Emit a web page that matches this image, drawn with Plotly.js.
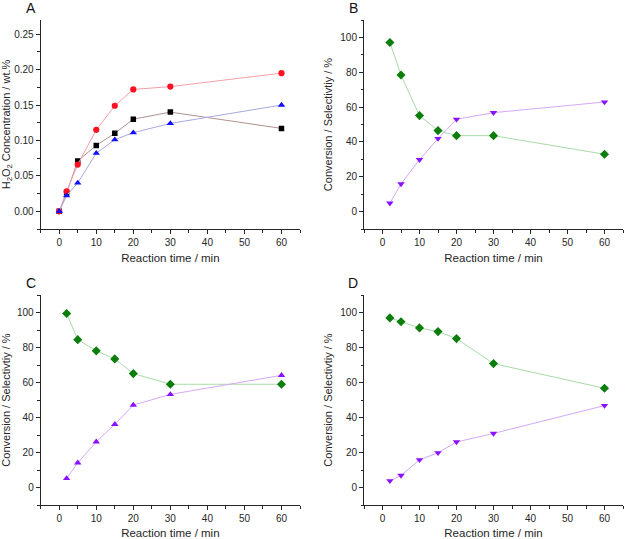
<!DOCTYPE html>
<html>
<head>
<meta charset="utf-8">
<script src="https://cdn.plot.ly/plotly-3.0.1.min.js"></script>
<style>html,body{margin:0;padding:0;background:#fff;}#chart{width:626px;height:539px;}</style>
</head>
<body>
<div id="chart"></div>
<script>
// ---- data ----
var timeA = [0, 2, 5, 10, 15, 20, 30, 60];
var h2o2Black = [0.000, 0.026, 0.071, 0.093, 0.110, 0.130, 0.140, 0.117];
var h2o2Red   = [0.000, 0.028, 0.066, 0.115, 0.149, 0.172, 0.176, 0.195];
var h2o2Blue  = [0.000, 0.022, 0.040, 0.082, 0.101, 0.111, 0.124, 0.150];

var timeBCD = [2, 5, 10, 15, 20, 30, 60];
var convB = [97.1, 78.4, 55.1, 46.5, 43.6, 43.6, 32.9];
var selB  = [4.8, 15.9, 29.8, 41.9, 53.0, 56.8, 62.9];
var convC = [99.4, 84.5, 78.1, 73.5, 65.1, 59.0, 59.0];
var selC  = [5.2, 14.1, 26.1, 36.1, 47.1, 53.2, 64.1];
var convD = [96.9, 94.7, 91.2, 89.1, 85.1, 70.8, 56.7];
var selD  = [3.8, 6.9, 15.8, 19.8, 26.0, 30.9, 46.8];

var panelLabels = ['A', 'B', 'C', 'D'];
var xTitle = 'Reaction time / min';
var yTitleA = 'H<sub>2</sub>O<sub>2</sub> Concentration / wt.%';
var yTitleBCD = 'Conversion / Selectivtiy / %';

// ---- styles ----
var FONT = 'Liberation Sans, Arial, sans-serif';
var AX = '#262626';
function tr(x, y, xa, ya, sym, mcol, lcol, size) {
  return {x: x, y: y, xaxis: xa, yaxis: ya, type: 'scatter', mode: 'lines+markers',
    line: {color: lcol, width: 1},
    marker: {symbol: sym, color: mcol, size: size, line: {width: 0}},
    showlegend: false, hoverinfo: 'x+y'};
}
var data = [
  tr(timeA, h2o2Black, 'x', 'y', 'square', '#000000', '#b09090', 5.5),
  tr(timeA, h2o2Red, 'x', 'y', 'circle', '#ff1020', '#f4a0a8', 6.2),
  tr(timeA, h2o2Blue, 'x', 'y', 'triangle-up', '#1010ff', '#a8a8e0', 6.5),
  tr(timeBCD, convB, 'x2', 'y2', 'diamond', '#0a7d0a', '#a8dba8', 7),
  tr(timeBCD, selB, 'x2', 'y2', 'triangle-down', '#8a10ff', '#d4a8f8', 6.5),
  tr(timeBCD, convC, 'x3', 'y3', 'diamond', '#0a7d0a', '#a8dba8', 7),
  tr(timeBCD, selC, 'x3', 'y3', 'triangle-up', '#8a10ff', '#d4a8f8', 6.5),
  tr(timeBCD, convD, 'x4', 'y4', 'diamond', '#0a7d0a', '#a8dba8', 7),
  tr(timeBCD, selD, 'x4', 'y4', 'triangle-down', '#8a10ff', '#d4a8f8', 6.5)
];

function xa(domain, anchor) {
  return {domain: domain, anchor: anchor, range: [-5, 65], dtick: 10, tick0: 0,
    showline: true, linecolor: AX, linewidth: 1, mirror: false,
    ticks: 'outside', ticklen: 4, tickwidth: 1, tickcolor: AX,
    minor: {ticks: 'outside', ticklen: 2.5, dtick: 5, tick0: 0, tickcolor: AX, tickwidth: 1},
    showgrid: false, zeroline: false,
    tickfont: {family: FONT, size: 10, color: AX},
    title: {text: xTitle, font: {family: FONT, size: 11.5, color: AX}, standoff: 6}};
}
function ya(domain, anchor, range, dtick, mdtick, fmt, title) {
  return {domain: domain, anchor: anchor, range: range, dtick: dtick, tick0: 0,
    showline: true, linecolor: AX, linewidth: 1, mirror: false,
    ticks: 'outside', ticklen: 4, tickwidth: 1, tickcolor: AX,
    minor: {ticks: 'outside', ticklen: 2.5, dtick: mdtick, tick0: 0, tickcolor: AX, tickwidth: 1},
    showgrid: false, zeroline: false, tickformat: fmt,
    tickfont: {family: FONT, size: 10, color: AX},
    title: {text: title, font: {family: FONT, size: 11, color: AX}, standoff: 5}};
}
var W = 626, H = 539;
var dxL = [40.7 / W, 300 / W], dxR = [364 / W, 623 / W];
var dyT = [1 - 229 / H, 1 - 20 / H], dyB = [1 - 505 / H, 1 - 295 / H];

var layout = {
  width: W, height: H, margin: {l: 0, r: 0, t: 0, b: 0},
  paper_bgcolor: '#ffffff', plot_bgcolor: '#ffffff',
  font: {family: FONT, color: AX},
  xaxis: xa(dxL, 'y'),
  yaxis: ya(dyT, 'x', [-0.025, 0.27], 0.05, 0.025, '.2f', yTitleA),
  xaxis2: xa(dxR, 'y2'),
  yaxis2: ya(dyT, 'x2', [-10, 110], 20, 10, 'd', yTitleBCD),
  xaxis3: xa(dxL, 'y3'),
  yaxis3: ya(dyB, 'x3', [-10, 110], 20, 10, 'd', yTitleBCD),
  xaxis4: xa(dxR, 'y4'),
  yaxis4: ya(dyB, 'x4', [-10, 110], 20, 10, 'd', yTitleBCD),
  annotations: [
    [31, 8], [353, 8], [31, 283], [353, 283]
  ].map(function (p, i) {
    return {text: panelLabels[i], xref: 'paper', yref: 'paper', x: p[0] / W, y: 1 - p[1] / H,
      xanchor: 'center', yanchor: 'middle', showarrow: false,
      font: {family: FONT, size: 14, color: '#111'}};
  })
};
Plotly.newPlot('chart', data, layout, {displayModeBar: false, staticPlot: true});
</script>
</body>
</html>
